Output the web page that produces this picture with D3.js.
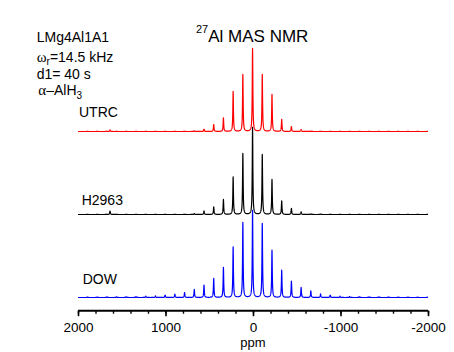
<!DOCTYPE html>
<html>
<head>
<meta charset="utf-8">
<script src="https://cdn.jsdelivr.net/npm/d3@7"></script>
<style>
  body { margin: 0; background: #fff; }
  svg { display: block; font-family: "Liberation Sans", Arial, sans-serif; }
</style>
</head>
<body>
<svg id="chart" width="454" height="352"></svg>
<script>
// spinning sideband positions (ppm), 14.5 kHz apart
const sidebandPpm = [1892, 1781, 1670, 1559, 1448, 1337, 1226, 1115, 1004, 893, 782, 671,
  560, 449, 338, 227, 116, 5, -106, -217, -328, -439, -550, -661, -772, -883, -994,
  -1105, -1216, -1327, -1438, -1549, -1660, -1771, -1882, -1993];

// intensities, same order as sidebandPpm (100 = tallest peak)
const utrc = [0.3, 0.3, 0.3, 0.3, 0.3, 0.3, 0.3, 0.3, 0.3, 0.3, 0.3, 0.8,
  2.6, 8.0, 15.6, 46, 65.5, 95.4, 65.5, 42.5, 13.8, 5.7, 2.3, 0.6, 0.3, 0.3, 0.3,
  0.3, 0.3, 0.3, 0.3, 0.3, 0.3, 0.3, 0.3, 0.3];
const h2963 = [0.3, 0.3, 0.3, 0.3, 0.3, 0.3, 0.3, 0.3, 0.3, 0.3, 0.3, 1.1,
  4.1, 8.7, 17.2, 43.2, 70.1, 100, 69, 40.2, 15.6, 6.9, 3.0, 0.8, 0.5, 0.3, 0.3,
  0.3, 0.3, 0.3, 0.3, 0.3, 0.3, 0.3, 0.3, 0.3];
const dow = [0.5, 0.6, 0.7, 0.8, 0.9, 1.1, 1.5, 1.8, 2.6, 3.8, 5.7, 9.2,
  14.1, 21.8, 34.5, 58.1, 86.2, 100, 85, 54.4, 31.4, 18.7, 11.5, 7.6, 4.1, 2.6, 1.5,
  1.1, 0.9, 0.8, 0.7, 0.6, 0.5, 0.5, 0.4, 0.4];

// small extra line seen at ~1634 ppm
const extraPpm = [1634];
const utrcExtra = [1.8];
const h2963Extra = [4.0];
const dowExtra = [0];

const majorTicks = [2000, 1000, 0, -1000, -2000];

const svg = d3.select('#chart');

const x = d3.scaleLinear().domain([2000, -2000]).range([78, 428]);

// lorentzian line width (half width, ppm)
const hw = 4;
const grid = d3.range(2000, -2001, -1);

function spectrum(vals, extra) {
    const peaks = sidebandPpm.map((p, i) => [p, vals[i]])
        .concat(extraPpm.map((p, i) => [p, extra[i]]));
    return grid.map(function (ppm) {
        let s = 0;
        peaks.forEach(function (pk) {
            const d = ppm - pk[0];
            s += pk[1] * hw * hw / (hw * hw + d * d);
        });
        return [ppm, s];
    });
}

const traces = [
    { name: 'UTRC', vals: utrc, extra: utrcExtra, color: '#ff0000', base: 131.5, lx: 79, ly: 116.7 },
    { name: 'H2963', vals: h2963, extra: h2963Extra, color: '#000000', base: 214.5, lx: 81.7, ly: 205 },
    { name: 'DOW', vals: dow, extra: dowExtra, color: '#0000ff', base: 297.5, lx: 82.7, ly: 284.3 },
];

traces.forEach(function (t) {
    const y = d3.scaleLinear().domain([0, 100]).range([t.base, t.base - 87]);
    const line = d3.line()
        .x(d => x(d[0]))
        .y(d => y(d[1]));
    svg.append('path')
        .datum(spectrum(t.vals, t.extra))
        .attr('d', line)
        .attr('fill', 'none')
        .attr('stroke', t.color)
        .attr('stroke-width', 1.2)
        .attr('stroke-linejoin', 'round');
    svg.append('text')
        .attr('x', t.lx)
        .attr('y', t.ly)
        .attr('font-size', 14)
        .text(t.name);
});

// x axis
const axisY = 310.7;
svg.append('g')
    .attr('transform', `translate(0,${axisY})`)
    .call(d3.axisBottom(x).tickValues(d3.range(2000, -2001, -200)).tickSize(3).tickSizeOuter(0).tickFormat(''))
    .call(g => g.select('.domain').remove())
    .call(g => g.selectAll('line').attr('stroke-width', 1.4));

const ax = svg.append('g')
    .attr('transform', `translate(0,${axisY})`)
    .call(d3.axisBottom(x).tickValues(majorTicks).tickSize(5.5).tickSizeOuter(0).tickPadding(6)
        .tickFormat(d => String(d)));
ax.select('.domain').attr('stroke-width', 2).attr('d', `M${x(2000)},0H${x(-2000)}`);
ax.selectAll('line').attr('stroke-width', 1.6);
ax.selectAll('text')
    .attr('font-size', 13.5)
    .attr('font-family', '"Liberation Sans", Arial, sans-serif')
    .attr('fill', '#000');

svg.append('text')
    .attr('x', x(0))
    .attr('y', 346.5)
    .attr('text-anchor', 'middle')
    .attr('font-size', 13)
    .text('ppm');

// title
const title = svg.append('text').attr('x', 196).attr('y', 41.7).attr('font-size', 17);
title.append('tspan').attr('font-size', 11).attr('dy', -9).text('27');
title.append('tspan').attr('dy', 9).text('Al MAS NMR');

// sample info
const info = svg.append('g').attr('font-size', 14);
info.append('text').attr('x', 36.7).attr('y', 41.7).text('LMg4Al1A1');

const w = info.append('text').attr('x', 36.7).attr('y', 62.3);
w.append('tspan').attr('font-family', '"Liberation Serif", serif').attr('font-size', 15).text('ω');
w.append('tspan').attr('font-size', 10).attr('dy', 3).text('r');
w.append('tspan').attr('dy', -3).text('=14.5 kHz');

info.append('text').attr('x', 36.7).attr('y', 79.3).text('d1= 40 s');

const a = info.append('text').attr('x', 38.3).attr('y', 95);
a.append('tspan').attr('font-family', '"Liberation Serif", serif').attr('font-size', 15).text('α');
a.append('tspan').text('–AlH');
a.append('tspan').attr('font-size', 10).attr('dy', 4).text('3');
</script>
</body>
</html>
